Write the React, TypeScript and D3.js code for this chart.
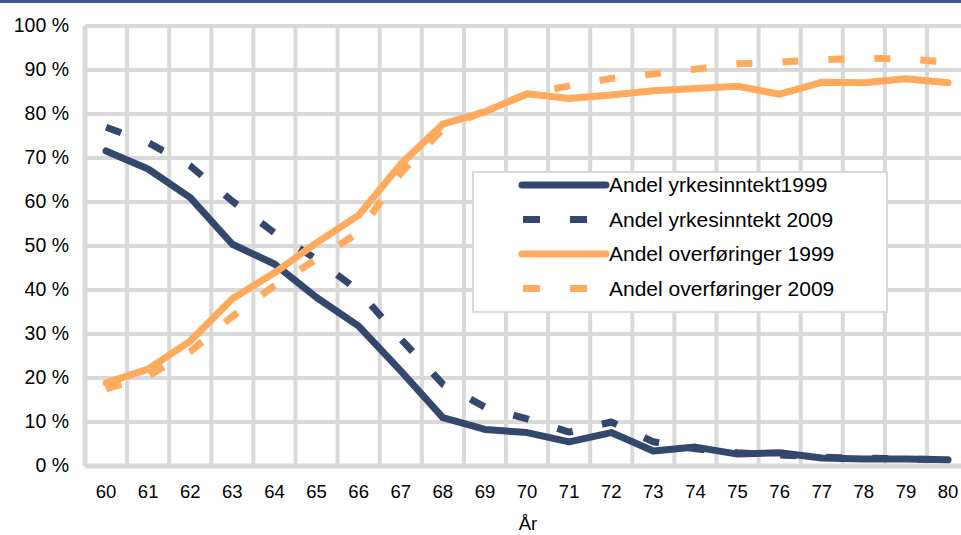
import React from "react";
import * as d3 from "d3";

const years: number[] = [60, 61, 62, 63, 64, 65, 66, 67, 68, 69, 70, 71, 72, 73, 74, 75, 76, 77, 78, 79, 80];
const yrkes1999: number[] = [71.6, 67.5, 61.0, 50.4, 45.9, 38.3, 31.8, 21.6, 11.0, 8.3, 7.6, 5.5, 7.6, 3.4, 4.3, 2.7, 3.0, 1.8, 1.6, 1.6, 1.4];
const yrkes2009: number[] = [77.0, 73.5, 68.2, 60.2, 53.0, 47.0, 39.8, 28.9, 18.6, 13.4, 10.7, 7.7, 10.0, 5.5, 3.9, 3.0, 2.5, 2.0, 1.8, 1.6, 1.4];
const overf1999: number[] = [18.9, 22.0, 28.4, 38.0, 43.9, 50.7, 57.0, 68.6, 77.7, 80.5, 84.6, 83.5, 84.3, 85.3, 85.8, 86.3, 84.5, 87.2, 87.1, 88.0, 87.1];
const overf2009: number[] = [17.5, 20.5, 26.0, 34.0, 41.0, 47.0, 53.0, 66.6, 76.6, 80.7, 84.5, 86.4, 88.1, 89.1, 90.2, 91.4, 91.8, 92.3, 92.7, 92.5, 91.8];
const yTicks: number[] = [0, 10, 20, 30, 40, 50, 60, 70, 80, 90, 100];
const seriesNames: string[] = [
  "Andel yrkesinntekt1999",
  "Andel yrkesinntekt 2009",
  "Andel overføringer 1999",
  "Andel overføringer 2009",
];
const xTitle = "År";

const NAVY = "#34486e";
const ORANGE = "#ffaa5c";
const GRID = "#d9d9d9";
const FONT = "'Liberation Sans', Arial, sans-serif";

export default function App() {
  const W = 961;
  const H = 535;
  const left = 85;
  const band = 42.1;
  const x = d3
    .scaleBand<number>()
    .domain(years)
    .range([left, left + band * years.length])
    .padding(0);
  const y = d3.scaleLinear().domain([0, 100]).range([466, 26]);
  const cx = (v: number) => (x(v) as number) + x.bandwidth() / 2;

  const line = d3
    .line<number>()
    .x((_, i) => cx(years[i]))
    .y((d) => y(d));

  const series = [
    { data: yrkes1999, color: NAVY, dash: null as string | null },
    { data: yrkes2009, color: NAVY, dash: "16 30" },
    { data: overf1999, color: ORANGE, dash: null },
    { data: overf2009, color: ORANGE, dash: "16 30" },
  ];

  const boundaries = years.map((yr) => x(yr) as number);

  const legX = 473;
  const legY = 172;
  const legW = 414;
  const legH = 140;
  const rowYs = [185, 219.5, 254, 288.5];

  return (
    <svg
      width={W}
      height={H}
      style={{ position: "absolute", left: 0, top: 0, background: "#fff" }}
      fontFamily={FONT}
    >
      <rect x={0} y={0} width={W} height={3} fill="#3f5a8c" />
      {yTicks.map((t) => (
        <line
          key={"h" + t}
          x1={left}
          x2={W}
          y1={y(t)}
          y2={y(t)}
          stroke={GRID}
          strokeWidth={t === 0 ? 5 : 4}
        />
      ))}
      {boundaries.map((b, i) => (
        <line
          key={"v" + i}
          x1={b}
          x2={b}
          y1={y(100)}
          y2={y(0)}
          stroke={GRID}
          strokeWidth={i === 0 ? 5 : 4}
        />
      ))}
      {yTicks.map((t) => (
        <text
          key={"yl" + t}
          x={69}
          y={y(t) - 1}
          dy="0.35em"
          textAnchor="end"
          fontSize={19.5}
          fill="#000"
        >
          {t + " %"}
        </text>
      ))}
      {years.map((yr) => (
        <text key={"xl" + yr} x={cx(yr)} y={498} textAnchor="middle" fontSize={18.5} fill="#000">
          {yr}
        </text>
      ))}
      <text x={528} y={530} textAnchor="middle" fontSize={18.5} fill="#000">
        {xTitle}
      </text>
      {series.map((s, i) => (
        <path
          key={"s" + i}
          d={line(s.data) || ""}
          fill="none"
          stroke={s.color}
          strokeWidth={7}
          strokeLinejoin="round"
          strokeLinecap={s.dash ? "butt" : "round"}
          strokeDasharray={s.dash || undefined}
        />
      ))}
      <rect x={legX} y={legY} width={legW} height={legH} fill="#fff" stroke={GRID} strokeWidth={2} />
      {series.map((s, i) => (
        <g key={"lg" + i}>
          <line
            x1={s.dash ? 523 : 522}
            x2={606}
            y1={rowYs[i]}
            y2={rowYs[i]}
            stroke={s.color}
            strokeWidth={7}
            strokeLinecap={s.dash ? "butt" : "round"}
            strokeDasharray={s.dash ? "17 30" : undefined}
          />
          <text x={609} y={rowYs[i]} dy="0.35em" fontSize={21} fill="#000">
            {seriesNames[i]}
          </text>
        </g>
      ))}
    </svg>
  );
}
